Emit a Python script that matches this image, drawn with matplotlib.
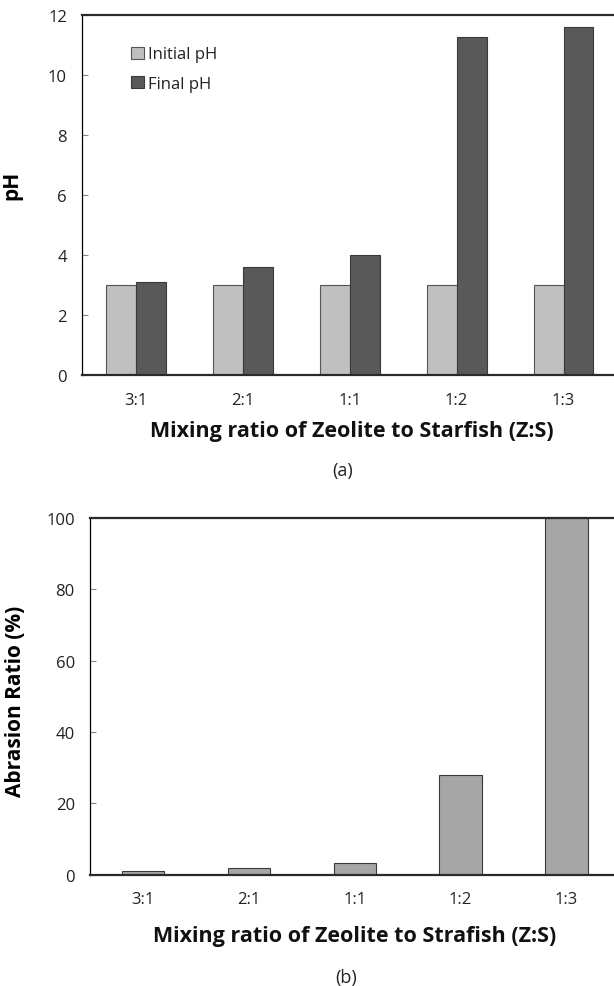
import matplotlib
matplotlib.use("Agg")
import matplotlib.pyplot as plt
import numpy as np

plt.rcParams['font.family'] = ['Open Sans', 'DejaVu Sans']

# Data
ratios = ["3:1", "2:1", "1:1", "1:2", "1:3"]
initial_ph = [3.0, 3.0, 3.0, 3.0, 3.0]
final_ph = [3.1, 3.6, 4.0, 11.25, 11.6]
abrasion_ratio = [1.0, 1.8, 3.2, 28.0, 100.0]

W, H = 614, 987
fig = plt.figure(figsize=(W / 100, H / 100), dpi=100)


def px_rect(x0, y0, x1, y1):
    return [x0 / W, 1 - y1 / H, (x1 - x0) / W, (y1 - y0) / H]


def style_axes(ax):
    ax.spines['left'].set_color('black')
    ax.spines['left'].set_linewidth(0.9)
    for s in ('top', 'bottom'):
        ax.spines[s].set_color('#2a2a2a')
        ax.spines[s].set_linewidth(1.6)
    ax.spines['right'].set_visible(False)
    ax.tick_params(axis='y', direction='in', length=4, width=0.8, color='#888888',
                   pad=11, labelsize=12, labelcolor='#222222')
    ax.tick_params(axis='x', length=0, pad=12, labelsize=12, labelcolor='#222222')


# (a) pH
ax1 = fig.add_axes(px_rect(82.2, 15.7, 617, 376))
x = np.arange(len(ratios))
w = 0.28
ax1.bar(x - w / 2, initial_ph, w, color='#c0c0c0', edgecolor='#555555', linewidth=0.8,
        label='Initial pH')
ax1.bar(x + w / 2, final_ph, w, color='#595959', edgecolor='#3a3a3a', linewidth=0.8,
        label='Final pH')
ax1.set_xlim(-0.5, 4.5)
ax1.set_ylim(0, 12)
ax1.set_yticks(np.arange(0, 13, 2))
ax1.set_xticks(x)
ax1.set_xticklabels(ratios)
style_axes(ax1)
ax1.set_ylabel('pH', fontsize=15, fontweight='bold')
ax1.yaxis.set_label_coords(-0.112, 0.53)
leg = ax1.legend(loc='upper left', bbox_to_anchor=(0.076, 0.935), frameon=False,
                 handlelength=0.75, handleheight=0.75, handletextpad=0.25,
                 labelspacing=0.8, fontsize=12, borderpad=0)
for t in leg.get_texts():
    t.set_color('#222222')

fig.text(352 / W, 1 - 432 / H, 'Mixing ratio of Zeolite to Starfish (Z:S)',
         ha='center', va='center', fontsize=15.5, fontweight='bold', color='#111111')
fig.text(343 / W, 1 - 471 / H, '(a)', ha='center', va='center', fontsize=13,
         color='#222222')

# (b) abrasion ratio
ax2 = fig.add_axes(px_rect(90.1, 519, 619.3, 875.7))
ax2.bar(x, abrasion_ratio, 0.4, color='#a6a6a6', edgecolor='#3a3a3a', linewidth=0.8)
ax2.set_xlim(-0.5, 4.5)
ax2.set_ylim(0, 100)
ax2.set_yticks(np.arange(0, 101, 20))
ax2.set_xticks(x)
ax2.set_xticklabels(ratios)
style_axes(ax2)
ax2.set_ylabel('Abrasion Ratio (%)', fontsize=15, fontweight='bold')
ax2.yaxis.set_label_coords(-0.121, 0.488)

fig.text(355 / W, 1 - 937 / H, 'Mixing ratio of Zeolite to Strafish (Z:S)',
         ha='center', va='center', fontsize=15.5, fontweight='bold', color='#111111')
fig.text(346 / W, 1 - 978 / H, '(b)', ha='center', va='center', fontsize=13,
         color='#222222')

fig.savefig('out.png', dpi=100, facecolor='white')
